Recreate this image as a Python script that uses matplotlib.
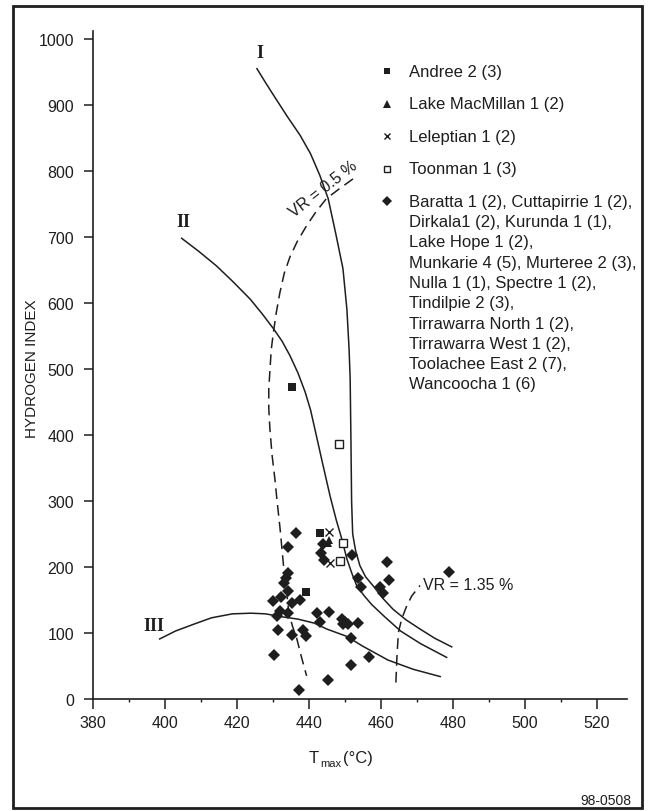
import matplotlib
matplotlib.use("Agg")
import matplotlib.pyplot as plt
from matplotlib import font_manager
from matplotlib.lines import Line2D
from matplotlib.patches import Rectangle
from matplotlib.ticker import MultipleLocator

# ---- data (Tmax in degC, HI in mg HC/g TOC) ----
curve1_t = [425.6, 428.2, 430.9, 434.1, 437.6, 440.5, 443.1, 445.4, 447.5, 449.5, 450.6, 451.2, 451.5,
            451.7, 451.9, 452.2, 453.0, 454.2, 455.8, 457.8, 460.5, 463.4, 467.0, 470.9, 475.0, 479.7]
curve1_hi = [955, 932, 909, 882, 854, 826, 793, 758, 705, 652, 590, 530, 485,
             400, 300, 250, 225, 202, 185, 172, 153, 136, 120, 106, 92, 79]

curve2_t = [404.7, 409.5, 414.4, 419.0, 423.7, 427.0, 430.2, 432.6, 434.8, 437.0, 439.0, 440.5,
            441.7, 443.8, 445.9, 447.6, 449.2, 450.6, 452.0, 453.3, 455.3, 457.5, 461.0, 465.5,
            471.0, 478.3]
curve2_hi = [698, 678, 656, 632, 606, 584, 561, 542, 520, 494, 465, 438,
             409, 358, 308, 272, 242, 212, 190, 172, 157, 143, 125, 103,
             84, 63]

curve3_t = [398.6, 403.0, 408.4, 413.0, 418.8, 424.0, 428.0, 432.0, 437.0, 441.5, 445.0,
            450.5, 455.0, 462.0, 469.0, 476.5]
curve3_hi = [91, 103, 114, 123, 129, 130, 129, 125, 121, 115, 106,
             95, 80, 59, 45, 34]

vr05_t = [452.3, 448.5, 444.9, 442.0, 439.4, 436.8, 434.8, 433.2, 432.0, 431.0, 430.2, 429.6,
          429.3, 428.9, 428.9, 429.2, 429.8, 430.6, 431.3, 432.0, 432.6, 433.2, 433.9, 434.5,
          435.5, 436.7, 438.0, 439.4]
vr05_hi = [788, 773, 758, 738, 717, 693, 670, 645, 616, 586, 556, 530,
           505, 470, 440, 410, 370, 333, 295, 260, 225, 190, 160, 130,
           110, 91, 63, 35]

vr135_t = [464.2, 464.5, 464.9, 465.8, 467.2, 468.6, 470.9]
vr135_hi = [25, 65, 101, 121, 141, 156, 172]

andree_t = [435.4, 443.1, 439.3]
andree_hi = [472, 252, 162]
macmillan_t = [445.7, 445.3]
macmillan_hi = [241, 236]
leleptian_t = [445.5, 445.9]
leleptian_hi = [253, 206]
toonman_t = [448.5, 449.5, 448.7]
toonman_hi = [386, 236, 209]
others_t = [436.5, 434.3, 443.9, 443.3, 451.9, 444.2, 461.7, 479.0,
            434.3, 433.7, 433.1, 453.7, 462.3, 454.4, 459.8, 460.7,
            434.2, 432.3, 430.0, 435.3, 437.5,
            432.0, 431.2, 434.3, 442.4, 445.5,
            443.2, 449.2, 450.1, 449.6, 450.8, 453.7,
            431.5, 435.3, 438.3, 439.2, 451.7,
            430.4, 456.8, 451.7, 445.4, 437.4]
others_hi = [251, 230, 235, 221, 218, 211, 207, 192,
             191, 184, 176, 184, 181, 170, 170, 161,
             164, 155, 149, 146, 150,
             133, 126, 130, 130, 132,
             116, 121, 116, 113, 114, 115,
             104, 97, 105, 95, 92,
             67, 64, 52, 29, 14]

legend_top = ["Andree 2 (3)", "Lake MacMillan 1 (2)", "Leleptian 1 (2)", "Toonman 1 (3)"]
legend_wells = ["Baratta 1 (2), Cuttapirrie 1 (2),", "Dirkala1 (2), Kurunda 1 (1),",
                "Lake Hope 1 (2),", "Munkarie 4 (5), Murteree 2 (3),",
                "Nulla 1 (1), Spectre 1 (2),", "Tindilpie 2 (3),",
                "Tirrawarra North 1 (2),", "Tirrawarra West 1 (2),",
                "Toolachee East 2 (7),", "Wancoocha 1 (6)"]

# ---- fonts ----
W, H = 653, 812
names = {f.name for f in font_manager.fontManager.ttflist}
NARROW = "Liberation Sans Narrow" if "Liberation Sans Narrow" in names else "Liberation Sans"
plt.rcParams["font.family"] = ["Liberation Sans", "DejaVu Sans"]
INK = "#1e1e1e"


def fx(px):
    return px / W


def fy(py):
    return 1 - py / H


fig = plt.figure(figsize=(W / 100, H / 100), dpi=100)
ax = fig.add_axes([fx(92.7), fy(700), (626.7 - 92.7) / W, 668 / H])
ax.set_xlim(380, 528.3)
ax.set_ylim(0, 1012)

lw = 1.1
ax.plot(curve1_t, curve1_hi, color=INK, lw=lw)
ax.plot(curve2_t, curve2_hi, color=INK, lw=lw)
ax.plot(curve3_t, curve3_hi, color=INK, lw=lw)
ax.plot(vr05_t, vr05_hi, color=INK, lw=lw, ls=(0, (7, 4)))
ax.plot(vr135_t, vr135_hi, color=INK, lw=lw, ls=(0, (7, 4)))

ax.plot(others_t, others_hi, ls="none", marker="D", ms=5.9, mfc=INK, mec=INK, mew=0)
ax.plot(andree_t, andree_hi, ls="none", marker="s", ms=5.6, mfc=INK, mec=INK, mew=0)
ax.plot(macmillan_t, macmillan_hi, ls="none", marker="^", ms=6.0, mfc=INK, mec=INK, mew=0)
ax.plot(leleptian_t, leleptian_hi, ls="none", marker="x", ms=5.5, mec=INK, mew=1.0)
ax.plot(toonman_t, toonman_hi, ls="none", marker="s", ms=5.2, mfc="white", mec=INK, mew=1.0)

# curve labels
ax.text(426.3, 980, "I", family="Liberation Serif", weight="bold", fontsize=13,
        ha="center", va="center", color=INK)
ax.text(405.2, 723, "II", family="Liberation Serif", weight="bold", fontsize=13,
        ha="center", va="center", color=INK)
ax.text(396.9, 111, "III", family="Liberation Serif", weight="bold", fontsize=13,
        ha="center", va="center", color=INK)
ax.text(444.0, 773, "VR = 0.5 %", fontsize=11.5, rotation=38, ha="center", va="center",
        rotation_mode="anchor", color=INK)
ax.text(471.8, 174, "VR = 1.35 %", fontsize=11.5, ha="left", va="center", color=INK)

# axes styling
for s in ("top", "right"):
    ax.spines[s].set_visible(False)
for s in ("left", "bottom"):
    ax.spines[s].set_linewidth(1.2)
    ax.spines[s].set_color(INK)
ax.set_xticks(range(380, 521, 20))
ax.xaxis.set_minor_locator(MultipleLocator(10))
ax.set_yticks(range(0, 1001, 100))
ax.tick_params(axis="x", which="major", length=7, width=1.1, pad=4.5, labelsize=11.5,
               colors=INK, labelfontfamily=NARROW)
ax.tick_params(axis="x", which="minor", length=2.5, width=1.0, colors=INK)
ax.tick_params(axis="y", which="major", length=6.5, width=1.1, pad=7, labelsize=11.5,
               colors=INK, labelfontfamily=NARROW)

fig.text(fx(31.7), fy(369), "HYDROGEN INDEX", rotation=90, ha="center", va="center",
         fontsize=11, family=NARROW, color=INK)
fig.text(fx(309), fy(759), "T", ha="left", va="center", fontsize=12, family=NARROW, color=INK)
fig.text(fx(320), fy(764), "max", ha="left", va="center", fontsize=8, family=NARROW, color=INK)
fig.text(fx(343), fy(759), "(°C)", ha="left", va="center", fontsize=12, family=NARROW, color=INK)
fig.text(fx(631), fy(801), "98-0508", ha="right", va="center", fontsize=10, family=NARROW, color=INK)

# legend drawn by hand
row_y = [72.3, 104.8, 137.3, 169.8]
mk = [dict(marker="s", ms=5.0, mfc=INK, mec=INK, mew=0),
      dict(marker="^", ms=5.5, mfc=INK, mec=INK, mew=0),
      dict(marker="x", ms=5.0, mec=INK, mew=1.0),
      dict(marker="s", ms=4.8, mfc="white", mec=INK, mew=1.0)]
for yy, lab, m in zip(row_y, legend_top, mk):
    fig.add_artist(Line2D([fx(387.3)], [fy(yy)], transform=fig.transFigure, ls="none", **m))
    fig.text(fx(409.3), fy(yy), lab, ha="left", va="center", fontsize=12, color=INK)
fig.add_artist(Line2D([fx(387.3)], [fy(202.3)], transform=fig.transFigure, ls="none",
                      marker="D", ms=5.5, mfc=INK, mec=INK, mew=0))
for i, lab in enumerate(legend_wells):
    fig.text(fx(409.3), fy(202.3 + i * 20.3), lab, ha="left", va="center", fontsize=12, color=INK)

# outer frame
fig.add_artist(Rectangle((fx(13.3), fy(809)), (642 - 13.3) / W, (809 - 7.3) / H,
                         transform=fig.transFigure, fill=False, lw=2.0, ec=INK))

fig.savefig("out.png", dpi=100)
